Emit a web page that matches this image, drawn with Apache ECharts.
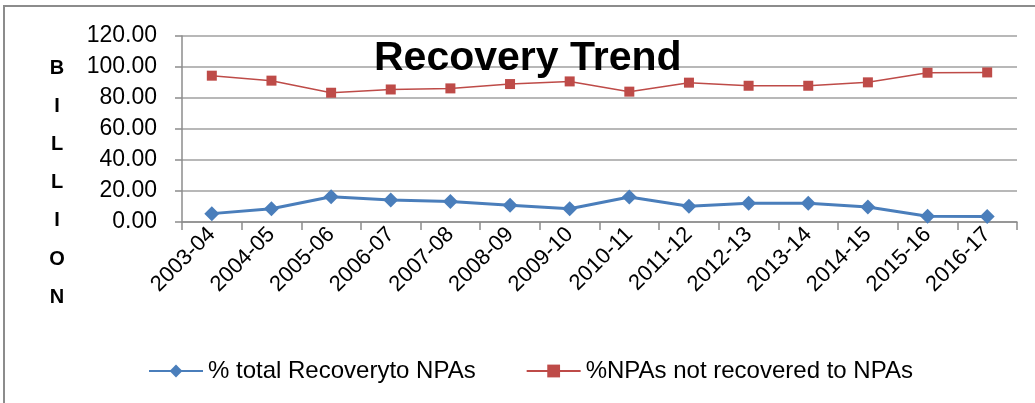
<!DOCTYPE html>
<html>
<head>
<meta charset="utf-8">
<script src="https://cdn.jsdelivr.net/npm/echarts@6/dist/echarts.min.js"></script>
<style>html,body{margin:0;padding:0;background:#fff;}#c{width:1035px;height:403px;}</style>
</head>
<body>
<div id="c"></div>
<script>
const categories = ['2003-04','2004-05','2005-06','2006-07','2007-08','2008-09','2009-10','2010-11','2011-12','2012-13','2013-14','2014-15','2015-16','2016-17'];
const recoveryPct = [5.4, 8.6, 16.3, 14.2, 13.3, 10.8, 8.6, 16.1, 10.1, 12.1, 12.1, 9.7, 3.7, 3.5];
const notRecoveredPct = [94.4, 91.2, 83.4, 85.5, 86.2, 89.0, 90.7, 84.1, 89.9, 87.9, 87.9, 90.1, 96.3, 96.5];
const seriesNames = ['% total Recoveryto NPAs', '%NPAs not recovered to NPAs'];
const chartTitle = 'Recovery Trend';
const yAxisTitle = 'BILLION';

const FONT = '"Liberation Sans", Arial, sans-serif';
const chart = echarts.init(document.getElementById('c'), null, {renderer: 'canvas'});

const letterGraphics = yAxisTitle.split('').map((ch, i) => ({
  type: 'text', x: 57, y: 68 + i * 38.2,
  style: {text: ch, font: 'bold 20px ' + FONT, fill: '#000', align: 'center', verticalAlign: 'middle'}
}));

chart.setOption({
  animation: false,
  backgroundColor: '#fff',
  graphic: [
    {type: 'rect', shape: {x: 4, y: 6, width: 1100, height: 500}, style: {fill: 'none', stroke: '#8c8c8c', lineWidth: 2}, z: -1},
    {type: 'text', left: 374, top: 38, style: {text: chartTitle, font: 'bold 41px ' + FONT, fill: '#000'}, z: 10}
  ].concat(letterGraphics),
  grid: {left: 182, right: 18, top: 36, bottom: 181},
  legend: {
    left: 143, top: 354, itemGap: 50, itemWidth: 54, itemHeight: 16,
    textStyle: {fontFamily: FONT, fontSize: 24, color: '#000'},
    data: seriesNames
  },
  xAxis: {
    type: 'category', data: categories, boundaryGap: true,
    axisLine: {lineStyle: {color: '#8c8c8c', width: 1.5}},
    axisTick: {show: true, length: 8, lineStyle: {color: '#8c8c8c', width: 1.5}},
    axisLabel: {rotate: 45, fontFamily: FONT, fontSize: 22, color: '#000', margin: 9, interval: 0}
  },
  yAxis: {
    type: 'value', min: 0, max: 120, interval: 20,
    axisLine: {show: true, lineStyle: {color: '#8c8c8c', width: 1.5}},
    axisTick: {show: true, length: 7, lineStyle: {color: '#8c8c8c', width: 1.5}},
    axisLabel: {formatter: v => v.toFixed(2), fontFamily: FONT, fontSize: 23, color: '#000', margin: 25},
    splitLine: {lineStyle: {color: '#a0a0a0', width: 1.5}}
  },
  series: [
    {name: seriesNames[0], type: 'line', data: recoveryPct, symbol: 'diamond', symbolSize: 15,
     lineStyle: {color: '#4a7ebb', width: 3}, itemStyle: {color: '#4a7ebb'}},
    {name: seriesNames[1], type: 'line', data: notRecoveredPct, symbol: 'rect', symbolSize: 10,
     lineStyle: {color: '#be4b48', width: 1.5}, itemStyle: {color: '#be4b48'}}
  ]
});
</script>
</body>
</html>
